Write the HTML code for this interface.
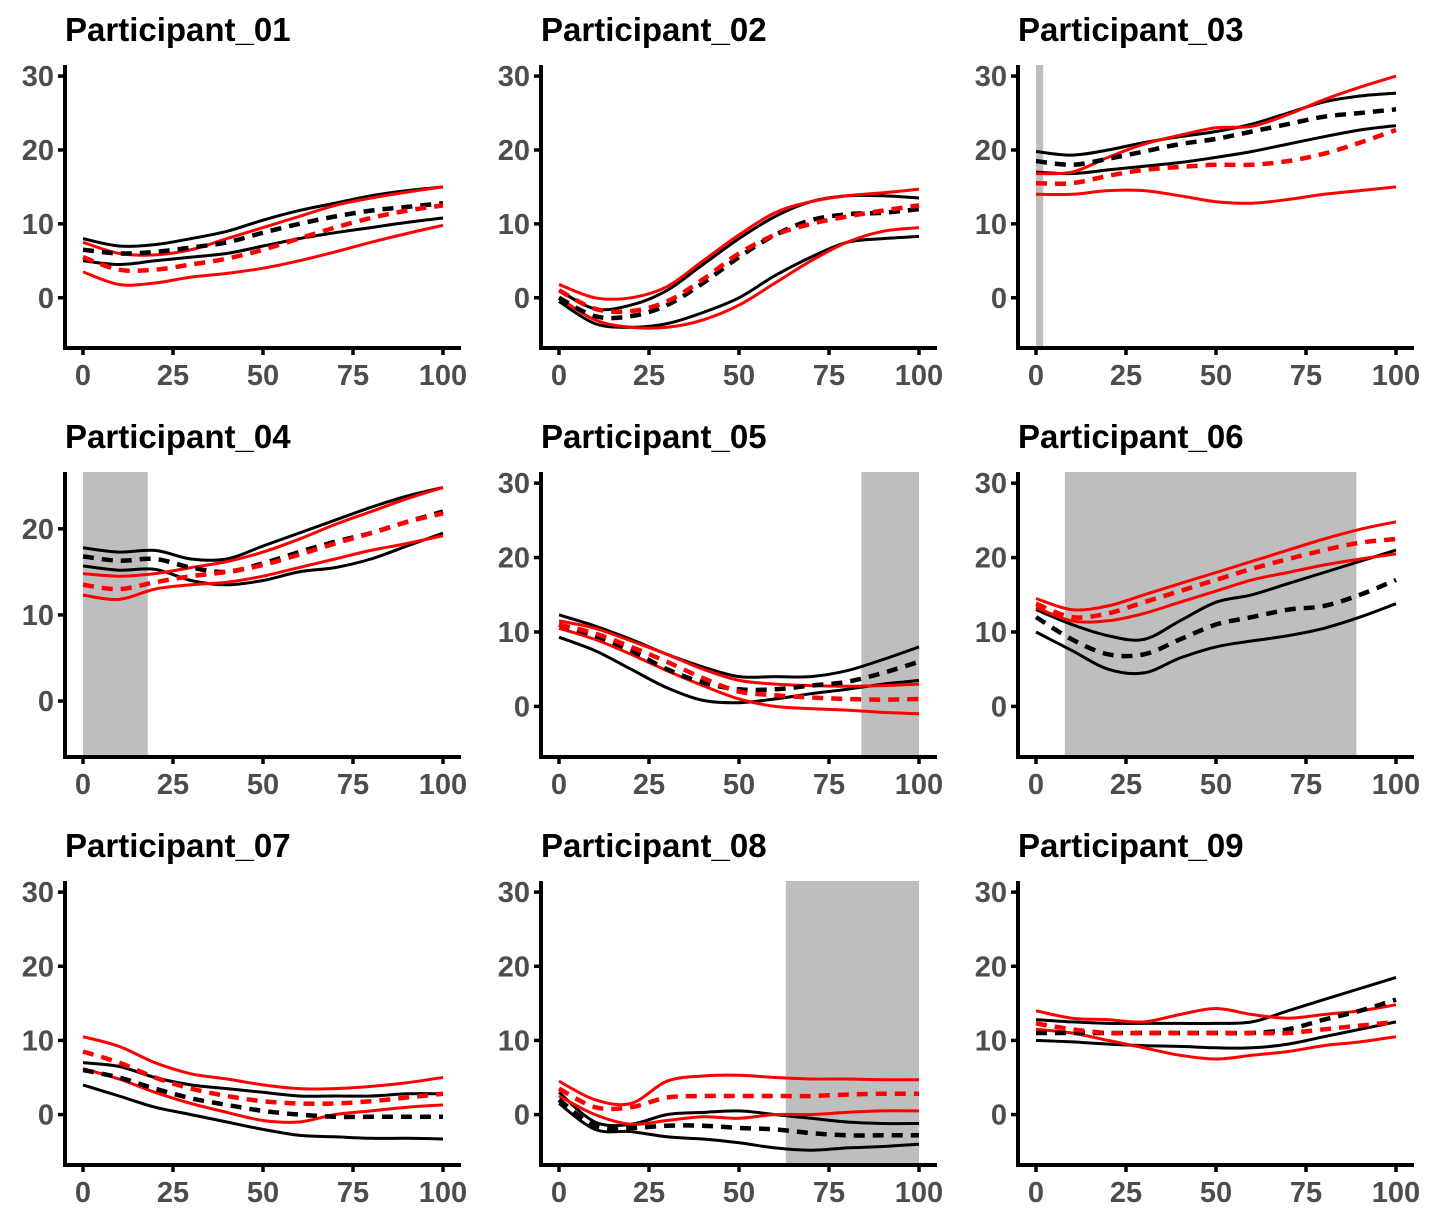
<!DOCTYPE html>
<html><head><meta charset="utf-8"><style>
body{margin:0;background:#fff}
svg{display:block}
text{font-family:"Liberation Sans",Arial,sans-serif;font-weight:bold}
</style></head><body>
<svg id="c" width="1430" height="1221" viewBox="0 0 1430 1221" xmlns="http://www.w3.org/2000/svg"></svg>
<script>
const xs=[0,10,20,30,40,50,60,70,80,90,100];
const titles=["Participant_01","Participant_02","Participant_03","Participant_04","Participant_05","Participant_06","Participant_07","Participant_08","Participant_09"];
const shade=[null,null,[0,2],[0,18],[84,100],[8,89],null,[63,100],null];
const blackUpper=[
[8,7,7.2,8,9,10.5,11.8,12.8,13.8,14.5,15],
[1,-1.5,-1,1,4.5,8,11,13,13.8,13.8,13.5],
[19.8,19.3,20,21,21.8,22.5,23.5,25,26.5,27.3,27.7],
[17.8,17.3,17.5,16.5,16.5,18,19.5,21,22.5,23.8,24.8],
[12.3,10.8,9,7,5.3,4,4,4,4.8,6.3,8],
[13,11,9.5,9,11.5,14,15,16.5,18,19.5,21],
[7,6.5,5,4,3.5,3,2.5,2.5,2.5,2.8,2.8],
[3,-1,-1.3,0,0.3,0.5,0,-0.5,-1,-1.2,-1.2],
[12.8,12.5,12.3,12.3,12.3,12.3,12.5,14,15.5,17,18.5]];
const blackMean=[
[6.5,6,6.2,6.8,7.5,8.8,10,11,11.8,12.3,12.8],
[0,-2.5,-2.5,-1,2,5.5,8.5,10.5,11.3,11.5,12],
[18.5,18,18.8,19.8,20.8,21.5,22.5,23.5,24.5,25,25.5],
[16.8,16.3,16.5,15.5,15,16,17.3,18.5,19.5,20.8,22],
[11,9.5,7.5,5,3.2,2.3,2.3,2.8,3.3,4.5,6],
[12,9,7,7,9,11,12,13,13.5,15,17],
[6,5,3.5,2.2,1.3,0.5,0,-0.3,-0.3,-0.3,-0.3],
[2,-1.5,-1.8,-1.5,-1.5,-1.8,-2,-2.5,-2.8,-2.8,-2.8],
[11,11,11,11,11,11,11,11.5,12.8,14,15.5]];
const blackLower=[
[5,4.5,5,5.5,6,7,8,8.8,9.5,10.2,10.8],
[-0.5,-3.5,-4,-3.5,-2,0,3,5.5,7.5,8,8.3],
[17,16.8,17.3,17.8,18.3,19,19.8,20.8,21.8,22.7,23.3],
[15.7,15.2,15.3,14,13.5,14,15,15.5,16.5,18,19.5],
[9.3,7.5,5,2.5,0.8,0.5,1,1.7,2.3,3,3.5],
[10,7.5,5,4.5,6.5,8,8.8,9.5,10.5,12,13.8],
[4,2.5,1,0,-1,-2,-2.8,-3,-3.2,-3.2,-3.3],
[1.5,-2,-2.3,-3,-3.3,-3.8,-4.5,-4.8,-4.5,-4.3,-4],
[10,9.8,9.5,9.3,9.2,9,9,9.5,10.5,11.5,12.5]];
const redUpper=[
[7.5,6,5.8,6.5,8,9.5,11,12.5,13.5,14.3,15],
[1.8,0,0,1.5,5,8.5,11.5,13,13.8,14.2,14.7],
[16.8,17,19,20.8,22,23,23.2,24.8,26.8,28.5,30],
[14.8,14.5,14.8,15.5,16.2,17.3,18.8,20.5,22,23.5,24.8],
[11.5,10.5,8.8,7,5,3.5,3,2.8,2.7,2.8,3],
[14.5,13,13.5,15,16.5,18,19.5,21,22.5,23.8,24.8],
[10.5,9.2,7,5.5,4.8,4,3.5,3.5,3.8,4.3,5],
[4.5,2,1.5,4.5,5.2,5.3,5,4.8,4.8,4.7,4.7],
[14,13,12.8,12.5,13.5,14.3,13.5,13,13.5,14,14.8]];
const redMean=[
[5.5,3.8,3.8,4.5,5.3,6.5,8,9.5,10.8,11.8,12.5],
[1,-1.5,-1.8,-0.5,2.5,6,8.5,10,11,11.8,12.5],
[15.5,15.5,16.5,17.3,17.7,18,18,18.5,19.5,21,22.7],
[13.5,13,13.8,14.5,15,15.8,17,18.3,19.5,20.8,21.8],
[11,9.8,8,6,3.8,2,1.5,1.2,1,0.9,1],
[13.8,12,12.5,14,15.5,17,18.5,19.8,21,22,22.5],
[8.5,7,5,3.5,2.5,1.8,1.5,1.5,1.8,2.3,2.8],
[3.5,1,1,2.3,2.5,2.5,2.5,2.5,2.7,2.8,2.8],
[12.3,11.5,11,11,11,11,11,11,11.5,12,12.5]];
const redLower=[
[3.5,1.8,2,2.8,3.3,4,5,6.2,7.5,8.7,9.8],
[0,-3,-4,-4,-3,-1,2,5,7.5,9,9.5],
[14,14,14.5,14.5,13.8,13,12.8,13.3,14,14.5,15],
[12.3,11.8,13,13.5,13.8,14.5,15.5,16.5,17.5,18.3,19.2],
[10.5,9,7,4.8,2.8,1,0,-0.3,-0.5,-0.8,-1],
[13.3,11.5,11.5,12.5,14,15.5,17,18,19,19.8,20.5],
[6.2,4.8,3,1.5,0.3,-0.8,-1,0,0.5,1,1.3],
[2.5,0,-1.3,-0.8,-0.3,-0.5,0,0,0.3,0.5,0.5],
[11.5,11,10,9,8,7.5,8,8.5,9.3,9.8,10.5]];
const xTicks=[0,25,50,75,100];
const yTicksDefault=[0,10,20,30];
const yTicksP4=[0,10,20];

const NS="http://www.w3.org/2000/svg";
const svg=document.getElementById('c');
function mk(t,a,p){const e=document.createElementNS(NS,t);for(const k in a)e.setAttribute(k,a[k]);(p||svg).appendChild(e);return e;}
function smooth(pts){let d="M"+pts[0][0]+","+pts[0][1];
for(let i=0;i<pts.length-1;i++){const p0=pts[Math.max(0,i-1)],p1=pts[i],p2=pts[i+1],p3=pts[Math.min(pts.length-1,i+2)];
const c1=[p1[0]+(p2[0]-p0[0])/6,p1[1]+(p2[1]-p0[1])/6],c2=[p2[0]-(p3[0]-p1[0])/6,p2[1]-(p3[1]-p1[1])/6];
d+="C"+c1[0].toFixed(1)+","+c1[1].toFixed(1)+" "+c2[0].toFixed(1)+","+c2[1].toFixed(1)+" "+p2[0].toFixed(1)+","+p2[1].toFixed(1);}
return d;}
const colL=[65,541,1018], rowT=[65,472,881], rowB=[348,757,1165];
for(let i=0;i<9;i++){
  const r=Math.floor(i/3),c=i%3;
  const L=colL[c],R=L+396,T=rowT[r],B=rowB[r];
  const ymin=i===3?-6.5:-6.8, ymax=i===3?26.6:31.5;
  const sx=v=>L+(v+5)/110*(R-L);
  const sy=v=>B-(v-ymin)/(ymax-ymin)*(B-T);
  const g=mk('g',{});
  
  
  const tt=mk('text',{x:L,y:T-24,'font-size':33,fill:'#000'},g);tt.textContent=titles[i];
  
  
  if(shade[i]){const s=mk('rect',{x:sx(shade[i][0]),y:T,width:sx(shade[i][1])-sx(shade[i][0]),height:B-T,fill:'#bebebe'},g);
    
    }
  const series=[[blackUpper,'#000',false],[blackLower,'#000',false],[redUpper,'#ff0000',false],[redLower,'#ff0000',false],[blackMean,'#000',true],[redMean,'#ff0000',true]];
  const names=['black-upper','black-lower','red-upper','red-lower','black-mean','red-mean'];
  series.forEach((s,k)=>{const pts=xs.map((x,j)=>[sx(x),sy(s[0][i][j])]);
    const p=mk('path',{d:smooth(pts),fill:'none',stroke:s[1],'stroke-width':s[2]?4.5:3,'stroke-dasharray':s[2]?'11,8':'none'},g);
    
    });
  const ax=mk('path',{d:`M${L},${T}V${B}H${R}`,fill:'none',stroke:'#000','stroke-width':4},g);
  
  
  xTicks.forEach(v=>{mk('line',{x1:sx(v),x2:sx(v),y1:B,y2:B+7,stroke:'#000','stroke-width':3.5},g);
    const t=mk('text',{x:sx(v),y:B+37,'font-size':29,fill:'#4d4d4d','text-anchor':'middle'},g);t.textContent=v;
    
    });
  (i===3?yTicksP4:yTicksDefault).forEach(v=>{mk('line',{x1:L-7,x2:L,y1:sy(v),y2:sy(v),stroke:'#000','stroke-width':3.5},g);
    const t=mk('text',{x:L-11,y:sy(v)+10,'font-size':29,fill:'#4d4d4d','text-anchor':'end'},g);t.textContent=v;
    
    });
}
</script>
</body></html>
